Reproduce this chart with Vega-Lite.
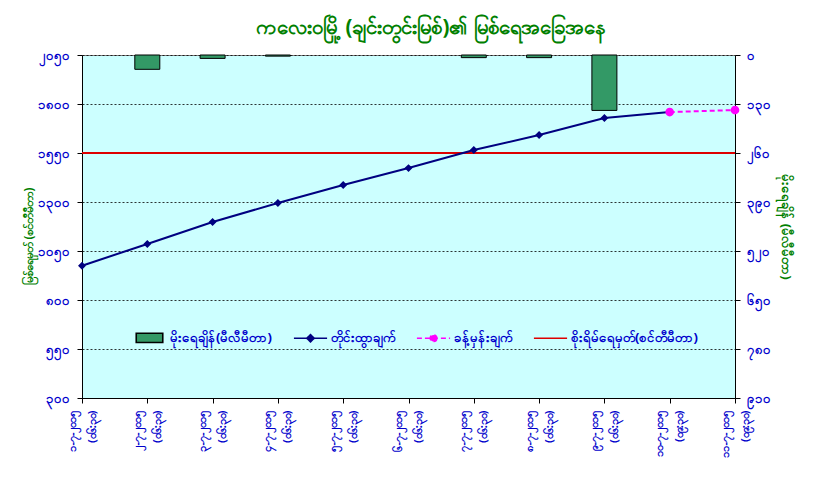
{
  "$schema": "https://vega.github.io/schema/vega-lite/v6.json",
  "autosize": {"type": "none"},
  "padding": {"left": 82, "top": 55, "right": 81, "bottom": 94},
  "width": 653,
  "height": 343,
  "background": "white",
  "config": {
    "font": "Noto Sans",
    "view": {"fill": "#CCFFFF", "stroke": "#808080", "strokeWidth": 1}
  },
  "title": {
    "text": "ကလေးဝမြို့ (ချင်းတွင်းမြစ်)၏ မြစ်ရေအခြေအနေ",
    "color": "#008000",
    "fontSize": 20.5,
    "fontWeight": "bold",
    "anchor": "middle",
    "offset": 11,
    "dx": 22
  },
  "data": {
    "values": [
      {"i": 1, "label": "၁-၇-၂၀၁၅|(၀၆:၃၀)", "rain": null, "level": 975, "forecast": null, "danger": 1550},
      {"i": 2, "label": "၂-၇-၂၀၁၅|(၀၆:၃၀)", "rain": 38, "level": 1086, "forecast": null, "danger": 1550},
      {"i": 3, "label": "၃-၇-၂၀၁၅|(၀၆:၃၀)", "rain": 9, "level": 1198, "forecast": null, "danger": 1550},
      {"i": 4, "label": "၄-၇-၂၀၁၅|(၀၆:၃၀)", "rain": 3, "level": 1295, "forecast": null, "danger": 1550},
      {"i": 5, "label": "၅-၇-၂၀၁၅|(၀၆:၃၀)", "rain": null, "level": 1387, "forecast": null, "danger": 1550},
      {"i": 6, "label": "၆-၇-၂၀၁၅|(၀၆:၃၀)", "rain": null, "level": 1473, "forecast": null, "danger": 1550},
      {"i": 7, "label": "၇-၇-၂၀၁၅|(၀၆:၃၀)", "rain": 7, "level": 1565, "forecast": null, "danger": 1550},
      {"i": 8, "label": "၈-၇-၂၀၁၅|(၀၆:၃၀)", "rain": 7, "level": 1642, "forecast": null, "danger": 1550},
      {"i": 9, "label": "၉-၇-၂၀၁၅|(၀၆:၃၀)", "rain": 147, "level": 1729, "forecast": null, "danger": 1550},
      {"i": 10, "label": "၁၀-၇-၂၀၁၅|(၀၉:၃၀)", "rain": null, "level": 1759, "forecast": 1759, "danger": 1550},
      {"i": 11, "label": "၁၁-၇-၂၀၁၅|(၀၉:၃၀)", "rain": null, "level": null, "forecast": 1769, "danger": 1550}
    ]
  },
  "encoding": {
    "x": {
      "field": "label",
      "type": "ordinal",
      "sort": {"field": "i", "op": "min"},
      "scale": {"type": "point", "padding": 0},
      "axis": {
        "title": null,
        "labelAngle": -90,
        "labelExpr": "split(datum.value, '|')",
        "labelColor": "#0000CC",
        "labelFontSize": 11,
        "labelFontWeight": "bold",
        "labelPadding": 7,
        "labelLineHeight": 20,
        "labelOffset": -10,
        "domainColor": "black",
        "tickColor": "black",
        "tickSize": 5,
        "grid": false
      }
    }
  },
  "layer": [
    {
      "mark": {"type": "bar", "width": 25, "stroke": "black", "strokeWidth": 1, "opacity": 1},
      "encoding": {
        "y": {
          "field": "rain",
          "type": "quantitative",
          "scale": {"domain": [0, 910], "reverse": true, "nice": false, "zero": true},
          "axis": {
            "orient": "right",
            "title": "မိုးရေချိန် (မီလီမီတာ)",
            "titleColor": "#008000",
            "titleFontSize": 13,
            "titleFontWeight": "bold",
            "titlePadding": 8,
            "values": [0, 130, 260, 390, 520, 650, 780, 910],
            "format": "d",
            "labelExpr": "replace(replace(replace(replace(replace(replace(replace(replace(replace(replace(datum.label, regexp('0','g'),'၀'), regexp('1','g'),'၁'), regexp('2','g'),'၂'), regexp('3','g'),'၃'), regexp('4','g'),'၄'), regexp('5','g'),'၅'), regexp('6','g'),'၆'), regexp('7','g'),'၇'), regexp('8','g'),'၈'), regexp('9','g'),'၉')",
            "labelColor": "#0000CC",
            "labelFontSize": 13,
            "labelFontWeight": "bold",
            "labelPadding": 6,
            "domainColor": "black",
            "tickColor": "black",
            "tickSize": 5,
            "grid": false
          }
        },
        "fill": {
          "datum": "မိုးရေချိန်(မီလီမီတာ)",
          "scale": {
            "domain": ["မိုးရေချိန်(မီလီမီတာ)", "တိုင်းထွာချက်", "ခန့်မှန်းချက်", "စိုးရိမ်ရေမှတ်(စင်တီမီတာ)"],
            "range": ["#339966", "#000080", "#FF00FF", "transparent"]
          },
          "legend": {
            "title": null,
            "orient": "none",
            "legendX": 50,
            "legendY": 265,
            "direction": "horizontal",
            "columns": 4,
            "columnPadding": 18,
            "symbolSize": 1100,
            "symbolStrokeWidth": 1.6,
            "symbolOpacity": 1,
            "labelColor": "#0000CC",
            "labelFontSize": 13,
            "labelFontWeight": "bold",
            "labelOffset": 3,
            "labelLimit": 300
          }
        }
      }
    },
    {
      "layer": [
        {
          "mark": {"type": "line", "strokeWidth": 2},
          "encoding": {
            "y": {
              "field": "danger",
              "type": "quantitative",
              "scale": {"domain": [300, 2050], "nice": false, "zero": false},
              "axis": {
                "orient": "left",
                "title": "မြစ်ရေမှတ် (စင်တီမီတာ)",
                "titleColor": "#008000",
                "titleFontSize": 11.5,
                "titleFontWeight": "bold",
                "titlePadding": 3,
                "titleY": 181,
                "values": [300, 550, 800, 1050, 1300, 1550, 1800, 2050],
                "format": "d",
                "labelExpr": "replace(replace(replace(replace(replace(replace(replace(replace(replace(replace(datum.label, regexp('0','g'),'၀'), regexp('1','g'),'၁'), regexp('2','g'),'၂'), regexp('3','g'),'၃'), regexp('4','g'),'၄'), regexp('5','g'),'၅'), regexp('6','g'),'၆'), regexp('7','g'),'၇'), regexp('8','g'),'၈'), regexp('9','g'),'၉')",
                "labelColor": "#0000CC",
                "labelFontSize": 13,
                "labelFontWeight": "bold",
                "labelPadding": 8,
                "domainColor": "black",
                "tickColor": "black",
                "tickSize": 5,
                "grid": true,
                "gridColor": "black",
                "gridDash": [2, 2],
                "gridWidth": 0.8
              }
            },
            "stroke": {
              "datum": "စိုးရိမ်ရေမှတ်(စင်တီမီတာ)",
              "scale": {
                "domain": ["မိုးရေချိန်(မီလီမီတာ)", "တိုင်းထွာချက်", "ခန့်မှန်းချက်", "စိုးရိမ်ရေမှတ်(စင်တီမီတာ)"],
                "range": ["black", "#000080", "#FF00FF", "#DD0000"]
              }
            }
          }
        },
        {
          "mark": {"type": "line", "strokeWidth": 2},
          "encoding": {
            "y": {"field": "level", "type": "quantitative"},
            "stroke": {"datum": "တိုင်းထွာချက်"}
          }
        },
        {
          "mark": {"type": "point", "filled": true, "fill": "#000080", "size": 1300, "opacity": 1},
          "encoding": {
            "y": {"field": "level", "type": "quantitative"},
            "shape": {
              "datum": "တိုင်းထွာချက်",
              "scale": {
                "domain": ["မိုးရေချိန်(မီလီမီတာ)", "တိုင်းထွာချက်", "ခန့်မှန်းချက်", "စိုးရိမ်ရေမှတ်(စင်တီမီတာ)"],
                "range": ["M-0.8,-0.28H0.8V0.28H-0.8Z", "M-1,0H1M0,-0.22L0.22,0L0,0.22L-0.22,0Z", "M-1,0H1M0.2,0A0.2,0.2 0 1,1 -0.2,0A0.2,0.2 0 1,1 0.2,0Z", "M-1,0H1"]
              }
            }
          }
        },
        {
          "mark": {"type": "line", "strokeWidth": 2},
          "encoding": {
            "y": {"field": "forecast", "type": "quantitative"},
            "stroke": {"datum": "ခန့်မှန်းချက်"},
            "strokeDash": {
              "datum": "ခန့်မှန်းချက်",
              "scale": {
                "domain": ["မိုးရေချိန်(မီလီမီတာ)", "တိုင်းထွာချက်", "ခန့်မှန်းချက်", "စိုးရိမ်ရေမှတ်(စင်တီမီတာ)"],
                "range": [[1, 0], [1, 0], [5, 3], [1, 0]]
              }
            }
          }
        },
        {
          "mark": {"type": "point", "filled": true, "fill": "#FF00FF", "size": 1900, "opacity": 1},
          "encoding": {
            "y": {"field": "forecast", "type": "quantitative"},
            "shape": {"datum": "ခန့်မှန်းချက်"}
          }
        }
      ]
    }
  ],
  "resolve": {"scale": {"y": "independent"}}
}
